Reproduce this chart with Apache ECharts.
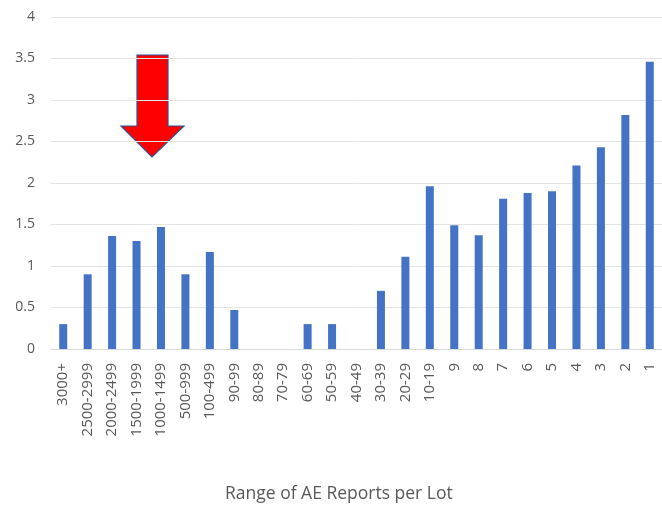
<!DOCTYPE html>
<html>
<head>
<meta charset="utf-8">
<script src="https://cdn.jsdelivr.net/npm/echarts@6/dist/echarts.min.js"></script>
<style>
  html, body { margin: 0; padding: 0; background: #fff; }
  #chart { width: 662px; height: 505px; }
</style>
</head>
<body>
<div id="chart"></div>
<script>
// categories, left to right
const categories = ["3000+", "2500-2999", "2000-2499", "1500-1999", "1000-1499", "500-999", "100-499",
  "90-99", "80-89", "70-79", "60-69", "50-59", "40-49", "30-39", "20-29", "10-19",
  "9", "8", "7", "6", "5", "4", "3", "2", "1"];
// bar heights
const values = [0.3, 0.9, 1.36, 1.3, 1.47, 0.9, 1.17,
  0.47, 0, 0, 0.3, 0.3, 0, 0.7, 1.11, 1.96,
  1.49, 1.37, 1.81, 1.88, 1.9, 2.21, 2.43, 2.82, 3.46];
const yTicks = [0, 0.5, 1, 1.5, 2, 2.5, 3, 3.5, 4];
const xTitle = "Range of AE Reports per Lot";

const font = "'Open Sans', sans-serif";
const grey = "#595959";

const myChart = echarts.init(document.getElementById("chart"));
myChart.setOption({
  animation: false,
  title: {
    text: xTitle,
    left: 220,
    top: 480,
    textStyle: { fontFamily: font, fontSize: 17.5, fontWeight: "normal", color: grey }
  },
  grid: { left: 51, top: 17, width: 613, bottom: 156 },
  xAxis: {
    type: "category",
    data: categories,
    axisTick: { show: false },
    axisLine: { lineStyle: { color: "#d9d9d9" } },
    axisLabel: {
      rotate: 90,
      margin: 14,
      interval: 0,
      color: grey,
      fontFamily: font,
      fontSize: 15
    }
  },
  yAxis: {
    type: "value",
    min: yTicks[0],
    max: yTicks[yTicks.length - 1],
    interval: 0.5,
    axisLine: { show: false },
    axisTick: { show: false },
    splitLine: { lineStyle: { color: "#e3e3e3" } },
    axisLabel: { color: grey, fontFamily: font, fontSize: 14, margin: 16 }
  },
  series: [{
    type: "bar",
    data: values,
    barWidth: 8,
    itemStyle: { color: "#4472c4" }
  }],
  graphic: [{
    type: "polygon",
    shape: {
      points: [[137, 55], [168, 55], [168, 126], [184, 126], [152, 157], [121, 126], [137, 126]]
    },
    style: { fill: "#ff0000", stroke: "#2f528f", lineWidth: 1.2 }
  }]
});
</script>
</body>
</html>
